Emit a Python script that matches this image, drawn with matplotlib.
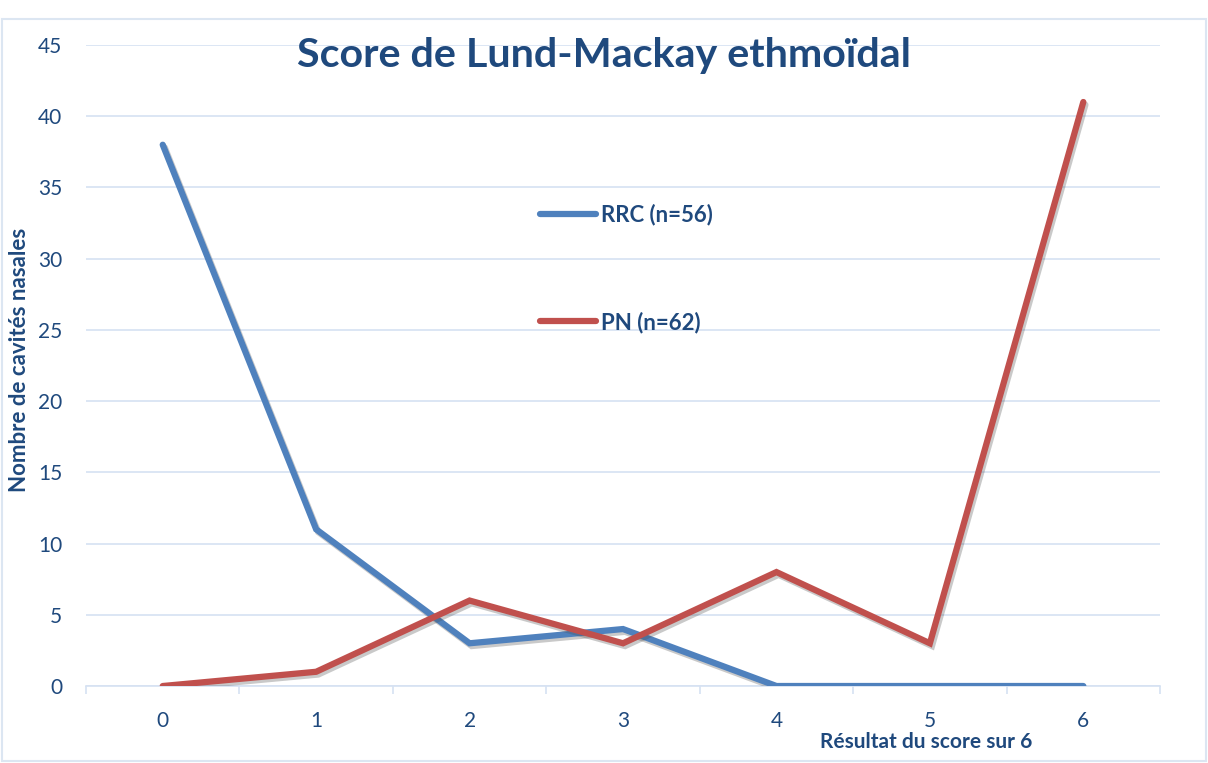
import numpy as np
import matplotlib.pyplot as plt
import matplotlib.patheffects as pe
from matplotlib.patches import Rectangle

# Données
scores = [0, 1, 2, 3, 4, 5, 6]
rrc = [38, 11, 3, 4, 0, 0, 0]
pn = [0, 1, 6, 3, 8, 3, 41]
y_ticks = [0, 5, 10, 15, 20, 25, 30, 35, 40, 45]

TXT = '#1F497D'
GRID = '#D6E2F2'

plt.rcParams['font.family'] = ['Lato', 'DejaVu Sans']

fig = plt.figure(figsize=(12.08, 7.63), dpi=100)
ax = fig.add_axes([0.0712, 0.1009, 0.8891, 0.8401])

shadow = [pe.SimpleLineShadow(offset=(1.5, -2), shadow_color='0.3', alpha=0.3),
          pe.Normal()]
ax.plot(scores, rrc, color='#4F81BD', lw=4.5, solid_capstyle='round',
        solid_joinstyle='miter', label='RRC (n=56)', path_effects=shadow, zorder=3)
ax.plot(scores, pn, color='#C0504D', lw=4.5, solid_capstyle='round',
        solid_joinstyle='miter', label='PN (n=62)', path_effects=shadow, zorder=3)

ax.set_xlim(-0.5, 6.5)
ax.set_ylim(0, 45)
ax.set_yticks(y_ticks)
ax.set_xticks(scores)
ax.set_xticks(np.arange(-0.5, 7, 1), minor=True)
ax.tick_params(axis='y', length=0, labelsize=15, colors=TXT, pad=17)
ax.tick_params(axis='x', which='major', length=0, labelsize=15, colors=TXT, pad=18)
ax.tick_params(axis='x', which='minor', length=6, width=1.2, color=GRID)
ax.grid(axis='y', color=GRID, lw=1.2)
ax.set_axisbelow(True)
for s in ['top', 'right', 'left']:
    ax.spines[s].set_visible(False)
ax.spines['bottom'].set_color(GRID)
ax.spines['bottom'].set_linewidth(1.2)

fig.text(0.5, 0.927, 'Score de Lund-Mackay ethmoïdal', ha='center', va='center',
         fontsize=29.7, fontweight='bold', color=TXT)
fig.text(0.016, 0.528, 'Nombre de cavités nasales', rotation=90, ha='center',
         va='center', fontsize=16, fontweight='bold', color=TXT)
fig.text(0.767, 0.027, 'Résultat du score sur 6', ha='center', va='center',
         fontsize=15, fontweight='bold', color=TXT)

leg = ax.legend(loc='upper left', bbox_to_anchor=(0.4227, 0.752), frameon=False,
                borderpad=0, borderaxespad=0,
                handlelength=2.5, handletextpad=0.25, labelspacing=3.85,
                prop={'size': 16, 'weight': 'bold'})
for t in leg.get_texts():
    t.set_color(TXT)
for h in leg.get_lines():
    h.set_path_effects([])
    h.set_solid_capstyle('round')

fig.patches.append(Rectangle((0.002, 0.003), 0.996, 0.972, transform=fig.transFigure,
                             fill=False, edgecolor='#DCE6F2', lw=1.5))

fig.savefig('out.png', dpi=100)
